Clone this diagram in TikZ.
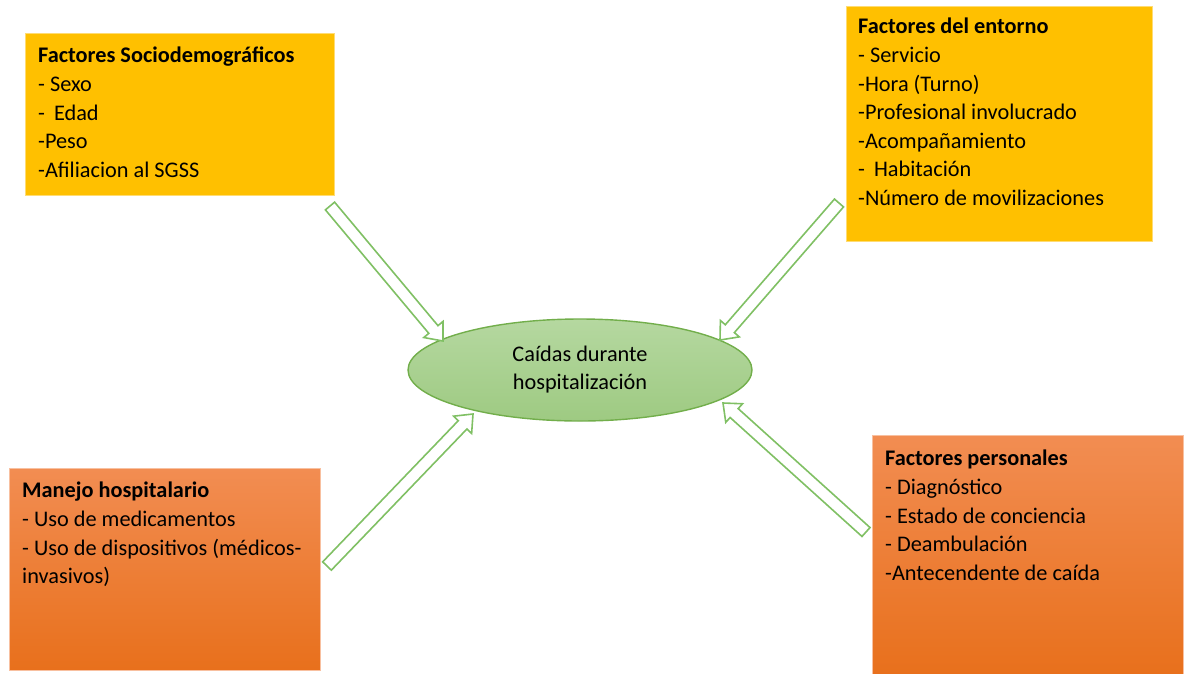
\documentclass[tikz,border=0pt]{standalone}
\usepackage{fontspec}
\setmainfont{Carlito}
\usetikzlibrary{calc,shapes.geometric}

\definecolor{boxyellow}{HTML}{FFC000}
\definecolor{orangetop}{HTML}{F28D52}
\definecolor{orangebot}{HTML}{E8701C}
\definecolor{greentop}{HTML}{B5D8A0}
\definecolor{greenbot}{HTML}{9ECA82}
\definecolor{greenline}{HTML}{72AE4B}
\definecolor{arrowline}{HTML}{80C064}

\tikzset{
  factorbox/.style={rectangle, line width=0.6pt, inner sep=0pt, anchor=north west},
  yellowbox/.style={factorbox, fill=boxyellow, draw=boxyellow!55!white},
  orangebox/.style={factorbox, top color=orangetop, bottom color=orangebot, draw=orangetop!55!white},
  boxtext/.style={anchor=north west, align=left, inner sep=0pt,
    font=\fontsize{22.3}{28.6}\selectfont},
  centre/.style={ellipse, draw=greenline, line width=1.4pt, top color=greentop, bottom color=greenbot,
    minimum width=344pt, minimum height=102pt, align=center, inner sep=0pt,
    font=\fontsize{22.3}{28}\selectfont},
  barrow/.style={draw=arrowline, line width=1.6pt, fill=white, line join=miter}
}

% hollow block arrow from tail #1 to tip #2
\newcommand{\blockarrow}[2]{%
  \path ($(#2)!15pt!(#1)$) coordinate (hb);
  \draw[barrow]
    ($(#1)!6pt!90:(#2)$) -- ($(hb)!6pt!90:(#2)$) -- ($(hb)!12.5pt!90:(#2)$) -- (#2)
    -- ($(hb)!12.5pt!-90:(#2)$) -- ($(hb)!6pt!-90:(#2)$) -- ($(#1)!6pt!-90:(#2)$) -- cycle;
}

\begin{document}
\begin{tikzpicture}[x=1pt,y=-1pt]
\useasboundingbox (0,0) rectangle (1188,673);

% factor boxes
\node[yellowbox, minimum width=309pt, minimum height=162pt] (socio) at (25,33) {};
\node[yellowbox, minimum width=306pt, minimum height=235pt] (entorno) at (846,6) {};
\node[orangebox, minimum width=311pt, minimum height=202pt] (manejo) at (9,468) {};
\node[orangebox, minimum width=311pt, minimum height=240pt] (personal) at (872,435) {};

\node[boxtext] (sociotxt) at (38,47) {\textbf{Factores Sociodemográficos}\\- Sexo\\-\hspace{9pt}Edad\\-Peso\\-Afiliacion al SGSS};
\node[boxtext] (entornotxt) at (858,18) {\textbf{Factores del entorno}\\- Servicio\\-Hora (Turno)\\-Profesional involucrado\\-Acompañamiento\\-\hspace{9pt}Habitación\\-Número de movilizaciones};
\node[boxtext] (manejotxt) at (22,482) {\textbf{Manejo hospitalario}\\- Uso de medicamentos\\- Uso de dispositivos (médicos-\\invasivos)};
\node[boxtext] (personaltxt) at (885,450) {\textbf{Factores personales}\\- Diagnóstico\\- Estado de conciencia\\- Deambulación\\-Antecendente de caída};

% central outcome
\node[centre] (caidas) at (580,370) {Caídas durante\\hospitalización};

% arrow ends
\coordinate (t1) at (330,206);
\coordinate (h1) at (443,341);
\coordinate (t2) at (839,203);
\coordinate (h2) at (720,340);
\coordinate (t3) at (327,566);
\coordinate (h3) at (473,414);
\coordinate (t4) at (866,532);
\coordinate (h4) at (723,403);

\blockarrow{t1}{h1}
\blockarrow{t2}{h2}
\blockarrow{t3}{h3}
\blockarrow{t4}{h4}
\end{tikzpicture}
\end{document}
